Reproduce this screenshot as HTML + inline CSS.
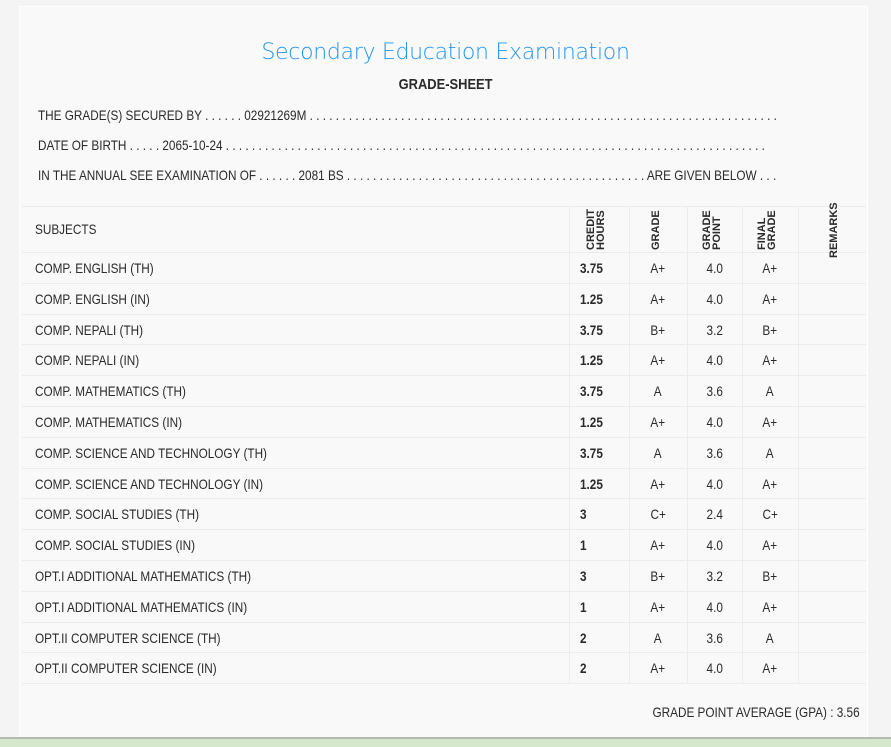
<!DOCTYPE html>
<html><head><meta charset="utf-8"><style>
body{margin:0;width:891px;height:745px;overflow:hidden;background:#f4f4f4;position:relative;font-family:"Liberation Sans",sans-serif;color:#2a2a2a;}
#card{position:absolute;left:19px;top:6px;width:847px;height:731px;background:#f9f9f9;border:1px solid #fff;}
.abs{position:absolute;white-space:nowrap;}
.sx{display:inline-block;transform:scaleX(0.84);transform-origin:left center;}
#title{left:0;width:891px;top:40px;text-align:center;font-family:"DejaVu Sans","Liberation Sans",sans-serif;font-weight:200;font-size:22px;color:#2196f3;letter-spacing:-0.3px}
#sub{left:0;width:891px;top:76px;text-align:center;font-weight:bold;font-size:15px;}
#sub .sx{transform-origin:center center;transform:scaleX(0.86)}
.info{left:38px;font-size:14px;}
.hline{position:absolute;height:1px;background:#ececec;left:22px;width:844px}
.vline{position:absolute;width:1px;background:#ececec;top:206px;height:477px}
.cell{position:absolute;font-size:14px;line-height:30px;white-space:nowrap}
.cell.c .sx{transform-origin:center center}
.rot{position:absolute;font-family:"Liberation Sans",sans-serif;font-weight:bold;font-size:11px;line-height:10px;transform:rotate(-90deg);transform-origin:left top;text-align:left;}
#bottom{position:absolute;left:0;top:737px;width:891px;height:8px;background:#d5e8cc;border-top:2px solid #b5b9b2;}
</style></head><body>
<div id="card"></div>
<div class="abs" id="title">Secondary Education Examination</div>
<div class="abs" id="sub"><span class="sx">GRADE-SHEET</span></div>
<div class="abs info" style="top:107px"><span class="sx">THE GRADE(S) SECURED BY . . . . . . 02921269M . . . . . . . . . . . . . . . . . . . . . . . . . . . . . . . . . . . . . . . . . . . . . . . . . . . . . . . . . . . . . . . . . . . . . . . .</span></div>
<div class="abs info" style="top:137px"><span class="sx">DATE OF BIRTH . . . . . 2065-10-24 . . . . . . . . . . . . . . . . . . . . . . . . . . . . . . . . . . . . . . . . . . . . . . . . . . . . . . . . . . . . . . . . . . . . . . . . . . . . . . . . . . .</span></div>
<div class="abs info" style="top:167px"><span class="sx">IN THE ANNUAL SEE EXAMINATION OF . . . . . . 2081 BS . . . . . . . . . . . . . . . . . . . . . . . . . . . . . . . . . . . . . . . . . . . . . . ARE GIVEN BELOW . . .</span></div>
<div id="table"></div>
<div class="abs" style="right:31px;top:704px;font-size:14px"><span class="sx" style="transform-origin:right center">GRADE POINT AVERAGE (GPA) : 3.56</span></div>
<div id="bottom"></div>
<script>
const subjects=["COMP. ENGLISH (TH)","COMP. ENGLISH (IN)","COMP. NEPALI (TH)","COMP. NEPALI (IN)","COMP. MATHEMATICS (TH)","COMP. MATHEMATICS (IN)","COMP. SCIENCE AND TECHNOLOGY (TH)","COMP. SCIENCE AND TECHNOLOGY (IN)","COMP. SOCIAL STUDIES (TH)","COMP. SOCIAL STUDIES (IN)","OPT.I ADDITIONAL MATHEMATICS (TH)","OPT.I ADDITIONAL MATHEMATICS (IN)","OPT.II COMPUTER SCIENCE (TH)","OPT.II COMPUTER SCIENCE (IN)"];
const credits=["3.75","1.25","3.75","1.25","3.75","1.25","3.75","1.25","3","1","3","1","2","2"];
const grades=["A+","A+","B+","A+","A","A+","A","A+","C+","A+","B+","A+","A","A+"];
const points=["4.0","4.0","3.2","4.0","3.6","4.0","3.6","4.0","2.4","4.0","3.2","4.0","3.6","4.0"];
const finals=["A+","A+","B+","A+","A","A+","A","A+","C+","A+","B+","A+","A","A+"];
const t=document.getElementById('table');
function mk(cls,html,style){const d=document.createElement('div');d.className=cls;d.innerHTML=html;d.style.cssText=style;t.appendChild(d);return d;}
function sx(s){return '<span class="sx">'+s+'</span>';}
const top0=252,rowH=30.8;
[206,252].forEach(y=>{const l=mk('hline','','top:'+y+'px');

});
[569,629,687,742,798].forEach(x=>{const l=mk('vline','','left:'+x+'px');

});
let h=mk('cell',sx('SUBJECTS'),'left:35px;top:214px');


const hdrs=[["CREDIT<br>HOURS",586,250],["GRADE",651,250],["GRADE<br>POINT",702,250],["FINAL<br>GRADE",757,250],["REMARKS",829,258]];
hdrs.forEach(a=>{const d=mk('rot',a[0],'left:'+a[1]+'px;top:'+a[2]+'px');

});
subjects.forEach((s,i)=>{
 const y=top0+i*rowH;
 const l=mk('hline','','top:'+Math.round(y+rowH)+'px');
 
 
 const a=mk('cell',sx(s),'left:35px;top:'+(y+1)+'px');
 
 
 const b=mk('cell',sx(credits[i]),'left:580px;top:'+(y+1)+'px;font-weight:bold');
 
 
 const c=mk('cell c',sx(grades[i]),'left:629px;width:58px;text-align:center;top:'+(y+1)+'px');
 
 
 const d=mk('cell c',sx(points[i]),'left:687px;width:55px;text-align:center;top:'+(y+1)+'px');
 
 
 const e=mk('cell c',sx(finals[i]),'left:742px;width:56px;text-align:center;top:'+(y+1)+'px');
 
 
});
</script>
</body></html>
